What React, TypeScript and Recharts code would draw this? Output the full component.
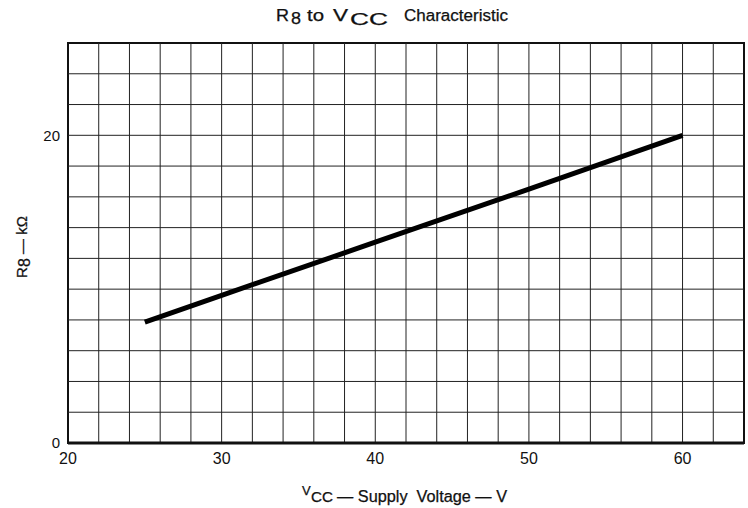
import { LineChart, Line, XAxis, YAxis, ReferenceLine, ReferenceArea } from 'recharts';

// Vcc (V) vs R8 (kOhm)
const vcc = [25, 30, 40, 50, 60];
const r8 = [7.85, 9.6, 13.05, 16.5, 20];

const xTicks = [20, 30, 40, 50, 60];
const yTicks = [0, 20];
const xGrid = [22, 24, 26, 28, 30, 32, 34, 36, 38, 40, 42, 44, 46, 48, 50, 52, 54, 56, 58, 60, 62];
const yGrid = [2, 4, 6, 8, 10, 12, 14, 16, 18, 20, 22, 24];

const data = vcc.map((v, i) => ({ vcc: v, r8: r8[i] }));

const font = '"Liberation Sans", Arial, sans-serif';
const ink = '#111';

// title + axis titles, subscripts drawn as separate runs like the typeset original
const Labels = () => (
  <svg
    width={748}
    height={508}
    style={{ position: 'absolute', left: 0, top: 0, pointerEvents: 'none' }}
    fontFamily={font}
    fill={ink}
    stroke={ink}
    strokeWidth={0.25}
  >
    <text x={276} y={21} fontSize={16} textLength={13} lengthAdjust="spacingAndGlyphs">R</text>
    <text x={291} y={24} fontSize={16} textLength={10} lengthAdjust="spacingAndGlyphs">8</text>
    <text x={307} y={21} fontSize={16} textLength={17} lengthAdjust="spacingAndGlyphs">to</text>
    <text x={333} y={21} fontSize={16} textLength={15} lengthAdjust="spacingAndGlyphs">V</text>
    <text x={350} y={25} fontSize={16} textLength={38} lengthAdjust="spacingAndGlyphs">CC</text>
    <text x={404} y={21} fontSize={16} textLength={104} lengthAdjust="spacingAndGlyphs">Characteristic</text>

    <text x={302} y={495} fontSize={13}>V</text>
    <text x={311} y={502} fontSize={15} textLength={22} lengthAdjust="spacingAndGlyphs">CC</text>
    <text x={337} y={502} fontSize={16} textLength={170} lengthAdjust="spacingAndGlyphs">
      {'— Supply\u00a0\u00a0Voltage — V'}
    </text>

    <g transform="translate(27 247) rotate(-90)">
      <text x={0} y={0} fontSize={15} textAnchor="middle">
        R<tspan dy={3} fontSize={16}>8</tspan>
        <tspan dy={-3}> — kΩ</tspan>
      </text>
    </g>
  </svg>
);

const App = () => {
  return (
    <div style={{ position: 'absolute', left: 0, top: 0, width: 748, height: 508, background: '#fff' }}>
      <LineChart width={748} height={508} data={data} margin={{ top: 43, right: 4, left: 0, bottom: 35 }}>
        <XAxis
          dataKey="vcc"
          type="number"
          domain={[20, 64]}
          ticks={xTicks}
          tickLine={false}
          axisLine={false}
          height={30}
          tick={{ fontSize: 16, fill: ink, fontFamily: font }}
          tickMargin={4}
        />
        <YAxis
          type="number"
          domain={[0, 26]}
          ticks={yTicks}
          tickLine={false}
          axisLine={false}
          width={68}
          tick={{ fontSize: 15, fill: ink, fontFamily: font }}
          tickMargin={2}
        />
        {xGrid.map((x) => (
          <ReferenceLine key={'x' + x} x={x} stroke="#222" strokeWidth={1} />
        ))}
        {yGrid.map((y) => (
          <ReferenceLine key={'y' + y} y={y} stroke="#222" strokeWidth={1} />
        ))}
        <ReferenceArea x1={20} x2={64} y1={0} y2={26} fill="none" stroke="#111" strokeWidth={2} />
        <ReferenceLine y={0} stroke="#111" strokeWidth={3} />
        <Line
          dataKey="r8"
          type="linear"
          stroke="#000"
          strokeWidth={5}
          dot={false}
          isAnimationActive={false}
        />
      </LineChart>
      <Labels />
    </div>
  );
};

export default App;
